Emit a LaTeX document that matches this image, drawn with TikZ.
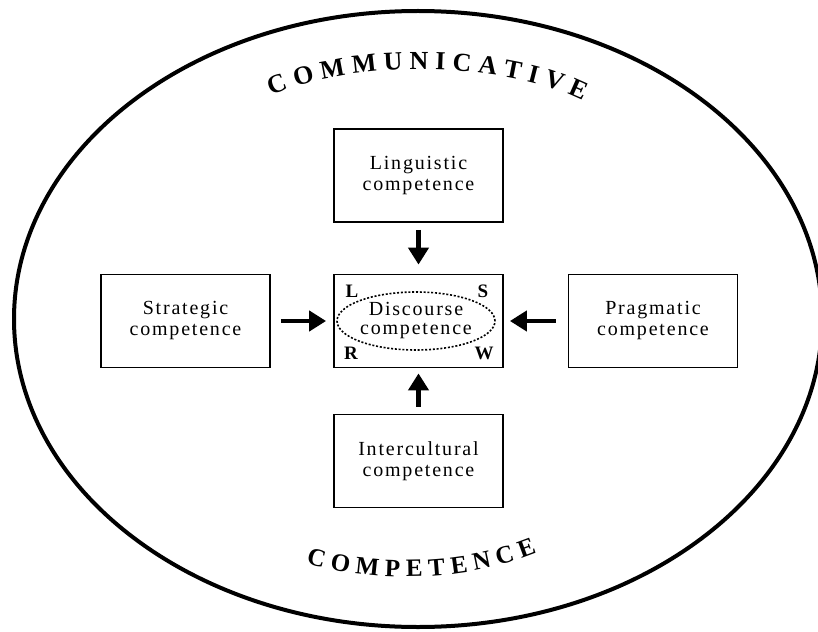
\documentclass[tikz,border=0pt]{standalone}
\usepackage{fontspec}
\setmainfont{Liberation Serif}
\newfontfamily\spacedserif[LetterSpace=9]{Liberation Serif}
\usetikzlibrary{arrows.meta,decorations.text,shapes.geometric}
\begin{document}
\begin{tikzpicture}[x=1pt,y=-1pt,
  compbox/.style={draw,line width=1.8pt,minimum width=169pt,minimum height=93pt,
    align=center,inner sep=0pt,font=\spacedserif\fontsize{20}{21}\selectfont},
  feed/.style={line width=4.8pt,-{Triangle[width=20pt,length=17pt]}},
  skill/.style={font=\bfseries\fontsize{19}{19}\selectfont,inner sep=0pt},
  outerring/.style={ellipse,draw,line width=4pt,inner sep=0pt,
    minimum width=808pt,minimum height=616pt}
]
\useasboundingbox (0,0) rectangle (818,631);

% outer frame
\node[outerring] (frame) at (418,319) {};

% title written along the top and bottom of the frame
\path[decorate,decoration={text along path,text align=fit to path,
  text={|\bfseries\fontsize{26}{26}\selectfont|COMMUNICATIVE}}]
  (272,96) .. controls (350,60) and (500,60) .. (583,101);
\path[decorate,decoration={text along path,text align=fit to path,
  text={|\bfseries\fontsize{25}{25}\selectfont|COMPETENCE}}]
  (306,563) .. controls (370,582) and (460,584) .. (537,553);

% component boxes
\node[compbox] (ling)  at (418.5,175.5) {Linguistic\\competence};
\node[compbox] (disc)  at (418.5,321)   {};
\node[compbox] (strat) at (185.5,321)   {Strategic\\competence};
\node[compbox] (prag)  at (653,321)     {Pragmatic\\competence};
\node[compbox] (inter) at (418.5,461)   {Intercultural\\competence};

% discourse core with the four skills
\node[ellipse,draw,line width=1.6pt,dash pattern=on 2pt off 1.8pt,
  minimum width=146pt,minimum height=58pt,inner sep=0pt,align=center,
  font=\spacedserif\fontsize{20}{19}\selectfont] (core) at (416,321)
  {Discourse\\competence};
\node[skill] (skL) at (352,291) {L};
\node[skill] (skS) at (483,291) {S};
\node[skill] (skR) at (351,353) {R};
\node[skill] (skW) at (484,353) {W};

% feeding arrows
\draw[feed,shorten <=7pt,shorten >=9pt]  (ling)  -- (disc);
\draw[feed,shorten <=10pt,shorten >=7pt] (strat) -- (disc);
\draw[feed,shorten <=12pt,shorten >=6pt] (prag)  -- (disc);
\draw[feed,shorten <=7pt,shorten >=5pt]  (inter) -- (disc);
\end{tikzpicture}
\end{document}
